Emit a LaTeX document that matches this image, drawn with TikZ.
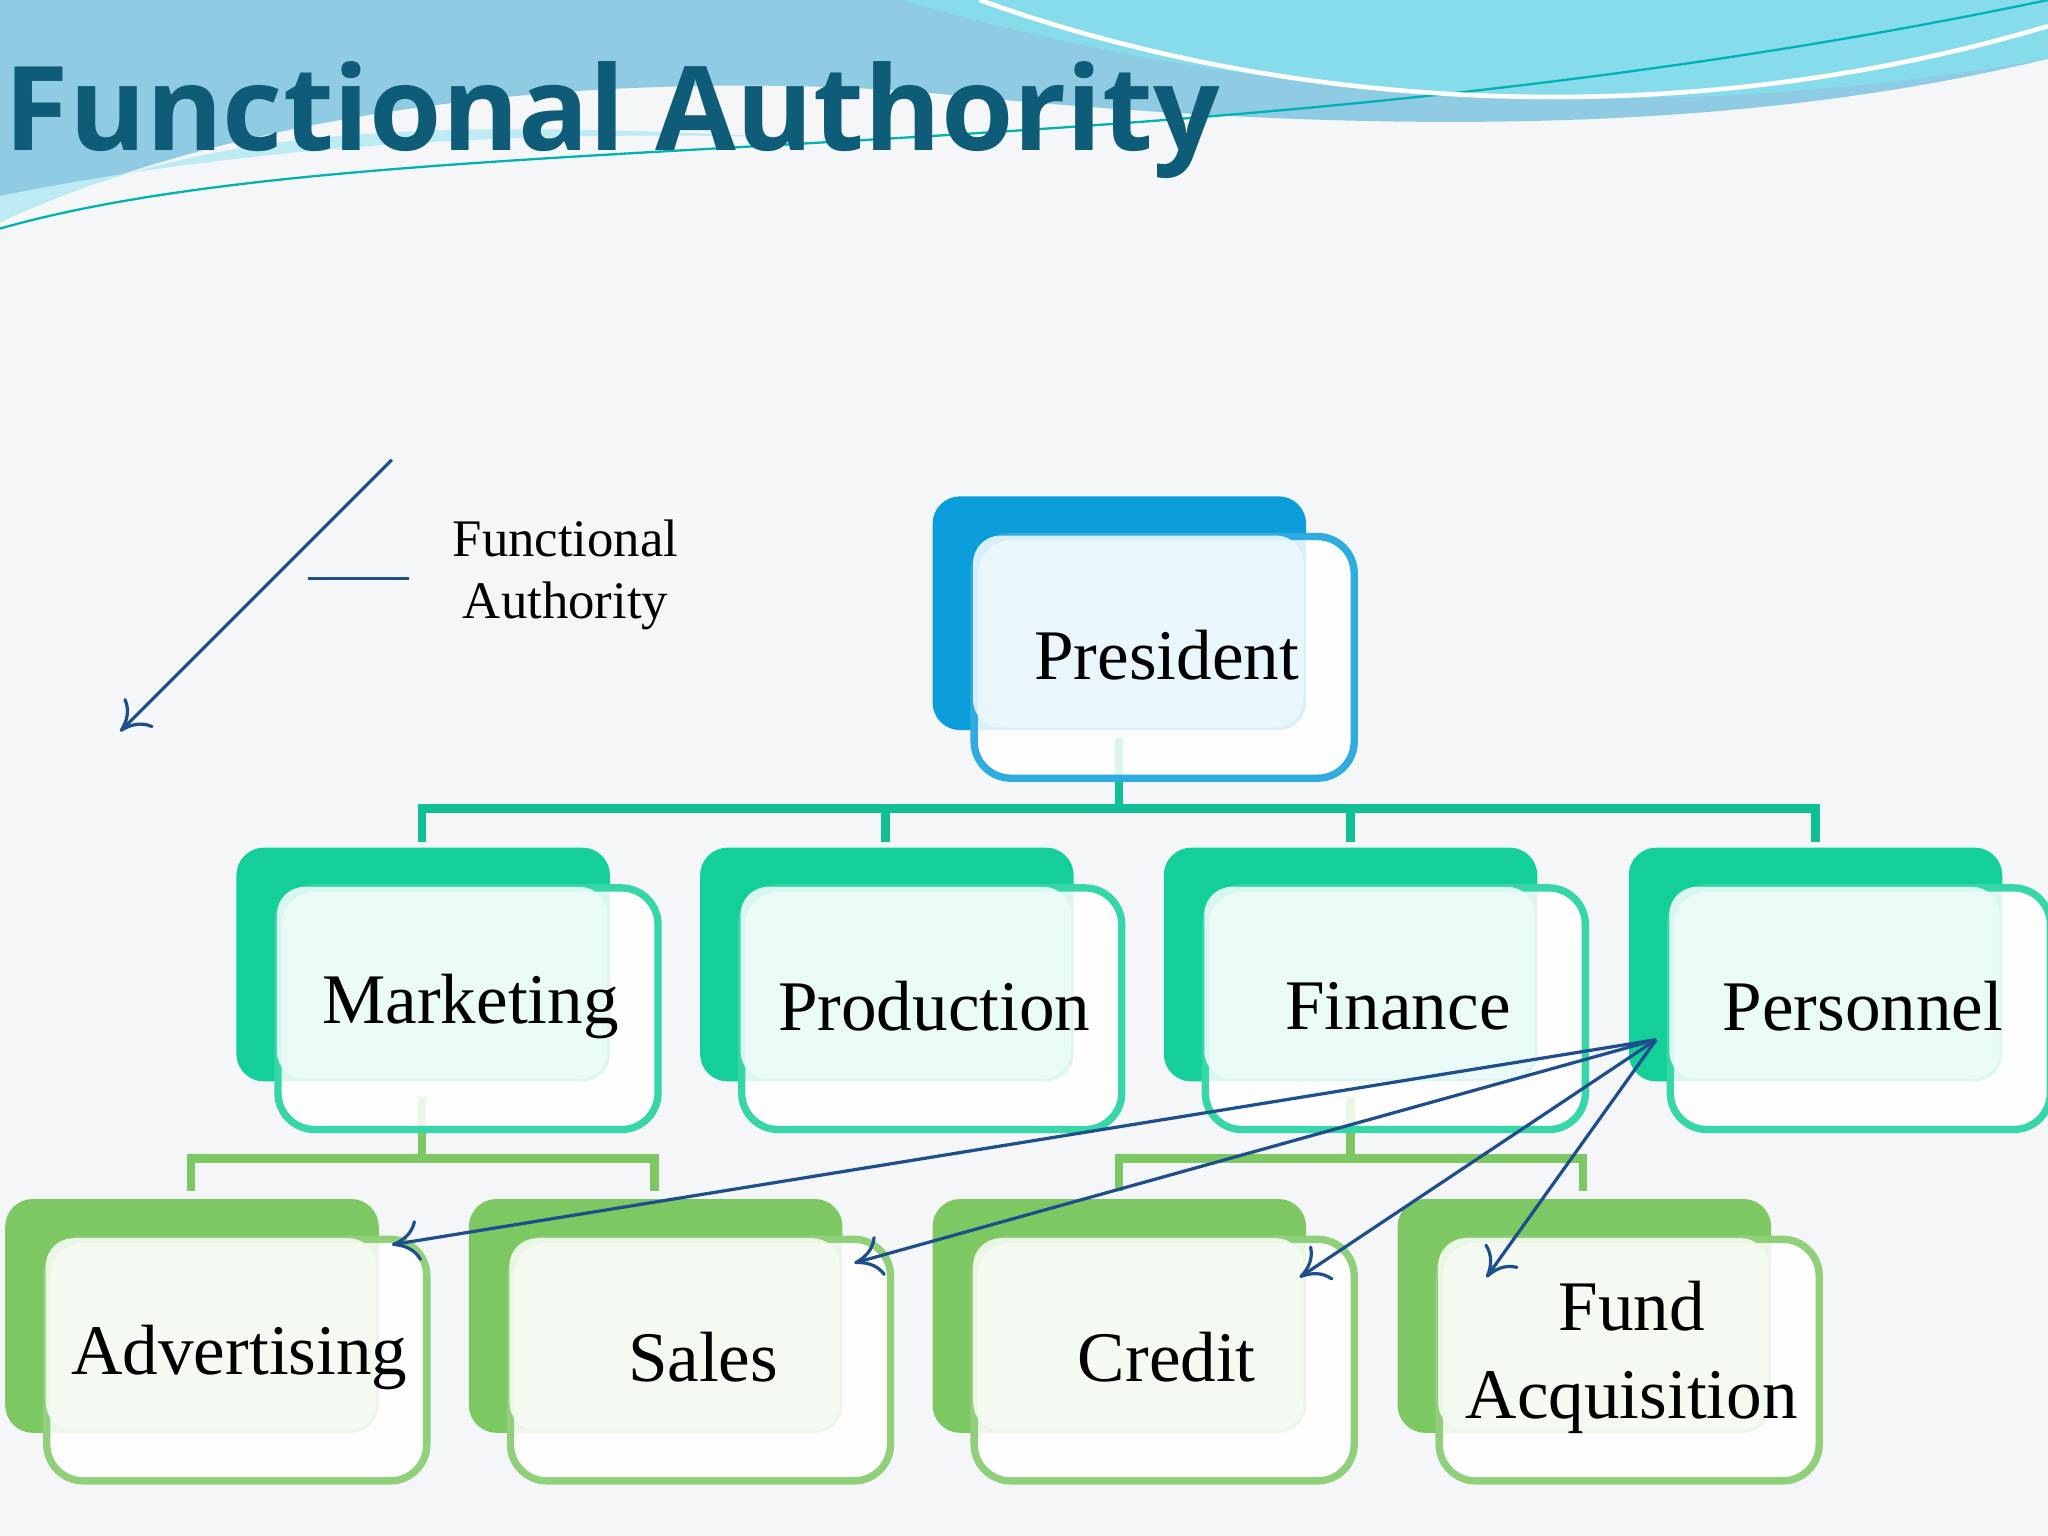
\documentclass[tikz,border=0pt]{standalone}
\usepackage{fontspec}
\setmainfont{Liberation Serif}
\newfontfamily\titlefont{Open Sans}
\usetikzlibrary{arrows.meta}
\definecolor{bg}{HTML}{F4F6F7}
\definecolor{ttl}{HTML}{0E5C78}
\definecolor{pres}{HTML}{0A9DD9}
\definecolor{mid}{HTML}{14CF9A}
\definecolor{low}{HTML}{7DC863}
\definecolor{arr}{HTML}{1F4E8C}
\definecolor{waveA}{HTML}{8FCBE3}
\definecolor{waveB}{HTML}{86DCEB}
\definecolor{waveC}{HTML}{BDEBF3}
\tikzset{
  backbox/.style={rounded corners=6pt,draw=none},
  frontbox/.style={rounded corners=8pt,line width=1.6pt,fill=white,fill opacity=0.85,text opacity=1},
  lbl/.style={font=\fontsize{15.5}{17}\selectfont,align=center},
  fa/.style={draw=arr,line width=0.7pt,-{To[length=6pt,width=9pt]}},
}
\newcommand{\unitbox}[5]{% name, x, y(top of back), color, text
  \fill[backbox,#4] (#2,-#3) rectangle ++(2.86,-1.79);
  \node[frontbox,draw=#4!85!white,minimum width=2.91cm,minimum height=1.85cm,anchor=north west] (#1) at (#2+0.29,-#3-0.28) {};
  \fill[#4!8,opacity=0.9,rounded corners=6pt] (#2+0.31,-#3-0.30) rectangle (#2+2.84,-#3-1.77);
  \node[lbl] at ([xshift=0.02cm,yshift=0.02cm]#1.center) {#5};
}
\begin{document}
\begin{tikzpicture}[x=1cm,y=1cm]
\useasboundingbox (0,0) rectangle (15.68,-11.76);
\fill[bg] (0,0) rectangle (15.68,-11.76);
% top wave
\fill[waveA] (0,0) -- (15.68,0) -- (15.68,-0.45) .. controls (13,-1.1) and (10,-1.0) .. (7,-0.7) .. controls (4,-0.5) and (1.5,-1.0) .. (0,-1.7) -- cycle;
\fill[waveB] (6.9,0) .. controls (9,-0.6) and (12,-1.1) .. (15.68,-0.45) -- (15.68,0) -- cycle;
\fill[waveC] (0,-1.7) .. controls (1.5,-1.0) and (3,-0.9) .. (6,-1.05) .. controls (4,-1.0) and (2,-1.1) .. (0,-1.5) -- cycle;
\draw[teal!60!cyan,line width=0.5pt] (0,-1.75) .. controls (3,-0.9) and (9,-1.4) .. (15.68,0);
\draw[white,line width=1pt] (7.5,0) .. controls (10,-0.9) and (13,-1.0) .. (15.68,-0.2);
\node[anchor=base west,inner sep=0,text=ttl,font=\titlefont\bfseries\fontsize{25.5}{28}\selectfont] (title) at (0.03,-1.15) {Functional Authority};
% connectors
\coordinate (p0) at (8.57,-5.65);
\coordinate (p1) at (8.57,-6.19);
\draw[mid!80!teal,line width=1.8pt] (p0) -- (p1) (3.23,-6.45) -- (3.23,-6.19) -- (13.90,-6.19) -- (13.90,-6.45)
  (6.78,-6.19) -- (6.78,-6.45) (10.34,-6.19) -- (10.34,-6.45);
\draw[low,line width=1.8pt] (3.23,-8.4) -- (3.23,-8.87) (1.46,-9.12) -- (1.46,-8.87) -- (5.01,-8.87) -- (5.01,-9.12)
  (10.34,-8.4) -- (10.34,-8.87) (8.57,-9.12) -- (8.57,-8.87) -- (12.12,-8.87) -- (12.12,-9.12);
% boxes
\unitbox{pres}{7.14}{3.80}{pres}{President}
\unitbox{mkt}{1.81}{6.49}{mid}{Marketing}
\unitbox{prod}{5.36}{6.49}{mid}{Production}
\unitbox{fin}{8.91}{6.49}{mid}{Finance}
\unitbox{pers}{12.47}{6.49}{mid}{Personnel}
\unitbox{adv}{0.04}{9.18}{low}{Advertising}
\unitbox{sales}{3.59}{9.18}{low}{Sales}
\unitbox{cred}{7.14}{9.18}{low}{Credit}
\unitbox{fund}{10.70}{9.18}{low}{Fund\\[2pt]Acquisition}
% functional arrows
\coordinate (src) at (12.68,-7.96);
\coordinate (t1) at (3.00,-9.53);
\coordinate (t2) at (6.54,-9.67);
\coordinate (t3) at (9.95,-9.78);
\coordinate (t4) at (11.38,-9.78);
\draw[fa] (src) -- (t1);
\draw[fa] (src) -- (t2);
\draw[fa] (src) -- (t3);
\draw[fa] (src) -- (t4);
% legend
\coordinate (l0) at (3.00,-3.52);
\coordinate (l1) at (0.92,-5.60);
\draw[fa] (l0) -- (l1);
\coordinate (m0) at (2.36,-4.43);
\coordinate (m1) at (3.13,-4.43);
\draw[arr,line width=0.7pt] (m0) -- (m1);
\node[align=center,font=\fontsize{11.5}{13.5}\selectfont] (leg) at (4.33,-4.40) {Functional\\Authority};
\end{tikzpicture}
\end{document}
